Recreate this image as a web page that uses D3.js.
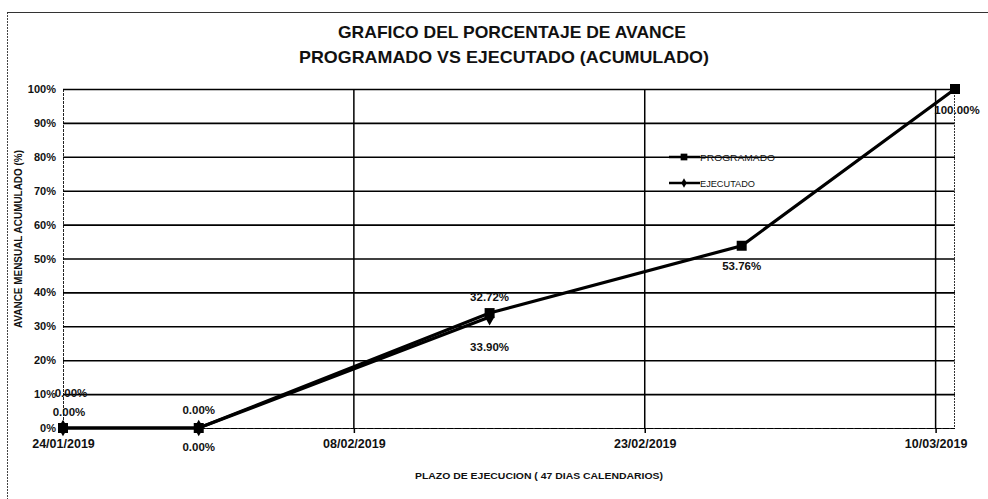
<!DOCTYPE html>
<html>
<head>
<meta charset="utf-8">
<script src="https://cdn.jsdelivr.net/npm/d3@7"></script>
<style>
  body { margin: 0; background: #fff; }
  text { font-family: "Liberation Sans", Arial, sans-serif; fill: #111; }
</style>
</head>
<body>
<div class="chart"></div>
<script>
// Avance programado vs ejecutado (acumulado)

const WIDTH = 988;
const HEIGHT = 499;
const PLOT = { left: 63, right: 955, top: 89, bottom: 428 };

const parseDate = d3.timeParse('%Y-%m-%d');

// data
const fechas = ['2019-01-24', '2019-01-31', '2019-02-15', '2019-02-28', '2019-03-11'];
const programado = [0, 0, 33.90, 53.76, 100];
const ejecutado = [0, 0, 32.72];
const yTicks = [0, 10, 20, 30, 40, 50, 60, 70, 80, 90, 100];
const xTicks = ['2019-01-24', '2019-02-08', '2019-02-23', '2019-03-10'];
const xDomain = ['2019-01-24', '2019-03-11'];

// label offsets (dx, dy) from each point, per series
const progLabelOffset = [[6, -12], [0, 23], [0, 38], [0, 24], [2, 25]];
const ejecLabelOffset = [[8, -31], [0, -14], [0, -16]];

const svg = d3.select('.chart')
  .append('svg')
  .attr('width', WIDTH)
  .attr('height', HEIGHT);

const x = d3.scaleTime()
  .domain(xDomain.map(parseDate))
  .range([PLOT.left, PLOT.right]);

const y = d3.scaleLinear()
  .domain([0, 100])
  .range([PLOT.bottom, PLOT.top]);

// outer chart frame
svg.append('line')
  .attr('x1', 7.5).attr('x2', 7.5).attr('y1', 12).attr('y2', HEIGHT)
  .attr('stroke', '#444').attr('stroke-dasharray', '2,1');
svg.append('line')
  .attr('x1', 7).attr('x2', WIDTH).attr('y1', 12.5).attr('y2', 12.5)
  .attr('stroke', '#333').attr('stroke-width', 1.2);

// title
const titleLines = ['GRAFICO DEL PORCENTAJE DE AVANCE', 'PROGRAMADO VS  EJECUTADO (ACUMULADO)'];
const titleWidths = [348, 410];
svg.selectAll('.title')
  .data(titleLines)
  .enter()
  .append('text')
  .attr('class', 'title')
  .attr('x', (d, i) => i === 0 ? 512 : 504)
  .attr('y', (d, i) => 38 + i * 25)
  .attr('text-anchor', 'middle')
  .attr('font-size', 17)
  .attr('font-weight', 'bold')
  .attr('textLength', (d, i) => titleWidths[i])
  .attr('lengthAdjust', 'spacingAndGlyphs')
  .text(d => d);

// horizontal gridlines + y labels
const yAxis = svg.append('g')
  .attr('transform', `translate(${PLOT.left},0)`)
  .call(d3.axisLeft(y)
    .tickValues(yTicks)
    .tickSize(-(PLOT.right - PLOT.left))
    .tickPadding(7)
    .tickFormat(d => d + '%'));
yAxis.select('.domain').attr('stroke', '#222').attr('stroke-width', 1).attr('stroke-dasharray', '3,1');
yAxis.selectAll('.tick line')
  .attr('stroke', '#000')
  .attr('stroke-width', d => d === 0 ? 1 : 1.6)
  .attr('stroke-dasharray', d => d === 0 ? '6,2' : null);
yAxis.selectAll('.tick text')
  .attr('font-size', 11)
  .attr('font-weight', 'bold')
  .attr('font-family', '"Liberation Sans", Arial, sans-serif')
  .attr('fill', '#111');

// vertical gridlines + date labels
const xAxis = svg.append('g')
  .attr('transform', `translate(0,${PLOT.bottom})`)
  .call(d3.axisBottom(x)
    .tickValues(xTicks.map(parseDate))
    .tickSize(5)
    .tickPadding(6)
    .tickFormat(d3.timeFormat('%d/%m/%Y')));
xAxis.select('.domain').remove();
xAxis.selectAll('.tick line').attr('stroke', '#000').attr('stroke-width', 1.5);
xAxis.selectAll('.tick text')
  .attr('font-size', 12.5)
  .attr('font-weight', 'bold')
  .attr('font-family', '"Liberation Sans", Arial, sans-serif')
  .attr('fill', '#111');

svg.append('g')
  .selectAll('line')
  .data(xTicks.slice(1).map(parseDate))
  .enter()
  .append('line')
  .attr('x1', d => x(d)).attr('x2', d => x(d))
  .attr('y1', PLOT.top).attr('y2', PLOT.bottom)
  .attr('stroke', '#000')
  .attr('stroke-width', 1.5);

// right plot edge
svg.append('line')
  .attr('x1', PLOT.right - 0.5).attr('x2', PLOT.right - 0.5)
  .attr('y1', PLOT.top).attr('y2', PLOT.bottom)
  .attr('stroke', '#333').attr('stroke-dasharray', '2,1');

// axis titles
svg.append('text')
  .attr('transform', `translate(22, 239) rotate(-90)`)
  .attr('text-anchor', 'middle')
  .attr('font-size', 10.5)
  .attr('font-weight', 'bold')
  .attr('textLength', 178)
  .attr('lengthAdjust', 'spacingAndGlyphs')
  .text('AVANCE MENSUAL ACUMULADO (%)');

svg.append('text')
  .attr('x', 539)
  .attr('y', 479)
  .attr('text-anchor', 'middle')
  .attr('font-size', 9)
  .attr('font-weight', 'bold')
  .attr('textLength', 248)
  .attr('lengthAdjust', 'spacingAndGlyphs')
  .text('PLAZO DE EJECUCION ( 47 DIAS CALENDARIOS)');

// series
const progData = programado.map((v, i) => ({ date: parseDate(fechas[i]), value: v }));
const ejecData = ejecutado.map((v, i) => ({ date: parseDate(fechas[i]), value: v }));

const line = d3.line()
  .x(d => x(d.date))
  .y(d => y(d.value));

svg.append('path')
  .datum(progData)
  .attr('d', line)
  .attr('fill', 'none')
  .attr('stroke', '#000')
  .attr('stroke-width', 3.2);

svg.append('path')
  .datum(ejecData)
  .attr('d', line)
  .attr('fill', 'none')
  .attr('stroke', '#000')
  .attr('stroke-width', 3.2);

const square = d3.symbol().type(d3.symbolSquare).size(100);
const diamond = d3.symbol().type(d3.symbolDiamond).size(80);

svg.append('g')
  .selectAll('path')
  .data(progData)
  .enter()
  .append('path')
  .attr('d', square)
  .attr('transform', d => `translate(${x(d.date)},${y(d.value)})`)
  .attr('fill', '#000');

svg.append('g')
  .selectAll('path')
  .data(ejecData)
  .enter()
  .append('path')
  .attr('d', diamond)
  .attr('transform', d => `translate(${x(d.date)},${y(d.value)})`)
  .attr('fill', '#000');

// data labels
function drawLabels(series, offsets) {
  svg.append('g')
    .selectAll('text')
    .data(series)
    .enter()
    .append('text')
    .attr('x', (d, i) => x(d.date) + offsets[i][0])
    .attr('y', (d, i) => y(d.value) + offsets[i][1])
    .attr('text-anchor', 'middle')
    .attr('font-size', 11.5)
    .attr('font-weight', 'bold')
    .text(d => d.value.toFixed(2) + '%');
}
drawLabels(progData, progLabelOffset);
drawLabels(ejecData, ejecLabelOffset);

// legend
const legendItems = [
  { name: 'PROGRAMADO', type: d3.symbolSquare, size: 45, sy: 157 },
  { name: 'EJECUTADO', type: d3.symbolDiamond, size: 25, sy: 183 }
];
const legend = svg.append('g');
legendItems.forEach(item => {
  legend.append('line')
    .attr('x1', 669).attr('x2', 700)
    .attr('y1', item.sy).attr('y2', item.sy)
    .attr('stroke', '#000').attr('stroke-width', 2.5);
  legend.append('path')
    .attr('d', d3.symbol().type(item.type).size(item.size)())
    .attr('transform', `translate(684,${item.sy})`)
    .attr('fill', '#000');
  legend.append('text')
    .attr('x', 700)
    .attr('y', item.sy + 3.5)
    .attr('font-size', 9.5)
    .attr('textLength', item.name === 'PROGRAMADO' ? 75 : 55)
    .attr('lengthAdjust', 'spacingAndGlyphs')
    .text(item.name);
});
</script>
</body>
</html>
